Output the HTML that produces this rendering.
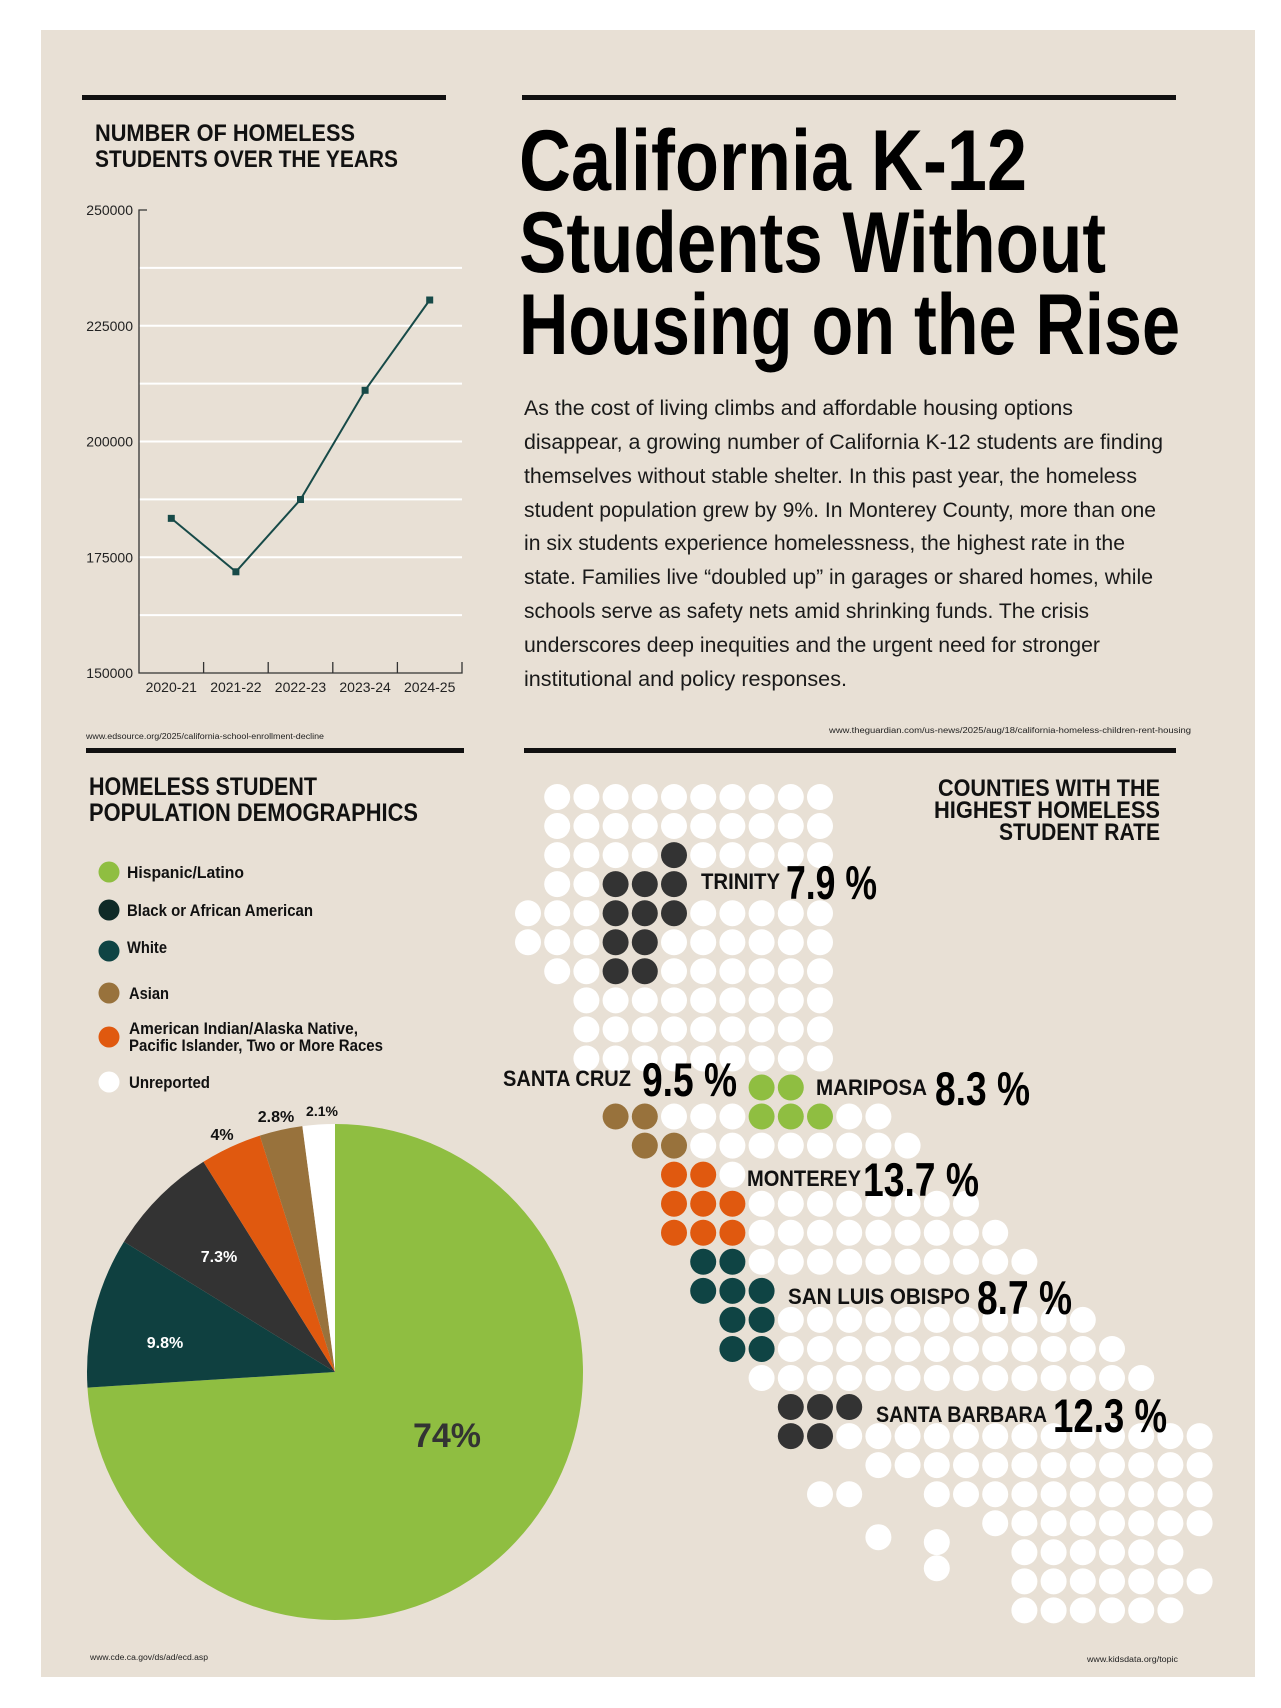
<!DOCTYPE html>
<html><head><meta charset="utf-8"><style>
html,body{margin:0;padding:0;background:#fff}
svg{display:block}
.cond{font-family:"Liberation Sans Narrow","Liberation Sans",sans-serif;font-weight:bold}
.reg{font-family:"Liberation Sans",sans-serif}
</style></head><body>
<svg id="root" width="1281" height="1708" viewBox="0 0 1281 1708" xmlns="http://www.w3.org/2000/svg">
<rect x="0" y="0" width="1281" height="1708" fill="#ffffff"/>
<rect x="41" y="30" width="1214" height="1647" fill="#e8e0d5"/>

<rect x="82" y="95" width="364" height="5" fill="#111"/>
<rect x="522" y="95" width="654" height="5" fill="#111"/>
<rect x="86" y="748" width="378" height="5" fill="#111"/>
<rect x="524" y="748" width="652" height="5" fill="#111"/>

<text class="cond" x="95" y="141" font-size="24" textLength="260" lengthAdjust="spacingAndGlyphs" fill="#111">NUMBER OF HOMELESS</text>
<text class="cond" x="95" y="167" font-size="24" textLength="303" lengthAdjust="spacingAndGlyphs" fill="#111">STUDENTS OVER THE YEARS</text>
<g id="linechart"></g>
<text class="reg" x="86" y="739" font-size="8" textLength="238" lengthAdjust="spacingAndGlyphs" fill="#222">www.edsource.org/2025/california-school-enrollment-decline</text>

<text class="cond" x="519" y="190" font-size="86" textLength="508" lengthAdjust="spacingAndGlyphs" fill="#000">California K-12</text>
<text class="cond" x="519" y="272" font-size="86" textLength="587" lengthAdjust="spacingAndGlyphs" fill="#000">Students Without</text>
<text class="cond" x="519" y="354" font-size="86" textLength="661" lengthAdjust="spacingAndGlyphs" fill="#000">Housing on the Rise</text>

<g class="reg" font-size="21" fill="#1a1a1a">
<text x="524" y="415" textLength="549" lengthAdjust="spacingAndGlyphs">As the cost of living climbs and affordable housing options</text>
<text x="524" y="449" textLength="639" lengthAdjust="spacingAndGlyphs">disappear, a growing number of California K-12 students are finding</text>
<text x="524" y="483" textLength="613" lengthAdjust="spacingAndGlyphs">themselves without stable shelter. In this past year, the homeless</text>
<text x="524" y="517" textLength="632" lengthAdjust="spacingAndGlyphs">student population grew by 9%. In Monterey County, more than one</text>
<text x="524" y="550" textLength="601" lengthAdjust="spacingAndGlyphs">in six students experience homelessness, the highest rate in the</text>
<text x="524" y="584" textLength="629" lengthAdjust="spacingAndGlyphs">state. Families live “doubled up” in garages or shared homes, while</text>
<text x="524" y="618" textLength="565" lengthAdjust="spacingAndGlyphs">schools serve as safety nets amid shrinking funds. The crisis</text>
<text x="524" y="652" textLength="576" lengthAdjust="spacingAndGlyphs">underscores deep inequities and the urgent need for stronger</text>
<text x="524" y="686" textLength="323" lengthAdjust="spacingAndGlyphs">institutional and policy responses.</text>
</g>
<text class="reg" x="829" y="733" font-size="8" textLength="362" lengthAdjust="spacingAndGlyphs" fill="#222">www.theguardian.com/us-news/2025/aug/18/california-homeless-children-rent-housing</text>

<text class="cond" x="89" y="795" font-size="25" textLength="228" lengthAdjust="spacingAndGlyphs" fill="#111">HOMELESS STUDENT</text>
<text class="cond" x="89" y="821" font-size="25" textLength="329" lengthAdjust="spacingAndGlyphs" fill="#111">POPULATION DEMOGRAPHICS</text>
<g id="legend"></g>
<g id="pie"></g>
<text class="reg" x="90" y="1660" font-size="8" textLength="118" lengthAdjust="spacingAndGlyphs" fill="#222">www.cde.ca.gov/ds/ad/ecd.asp</text>

<g id="dots"></g>
<text class="cond" x="1160" y="796" font-size="24" text-anchor="end" fill="#111" textLength="222" lengthAdjust="spacingAndGlyphs">COUNTIES WITH THE</text>
<text class="cond" x="1160" y="818" font-size="24" text-anchor="end" fill="#111" textLength="226" lengthAdjust="spacingAndGlyphs">HIGHEST HOMELESS</text>
<text class="cond" x="1160" y="840" font-size="24" text-anchor="end" fill="#111" textLength="161" lengthAdjust="spacingAndGlyphs">STUDENT RATE</text>
<g id="counties"></g>
<text class="reg" x="1087" y="1662" font-size="8" textLength="91" lengthAdjust="spacingAndGlyphs" fill="#222">www.kidsdata.org/topic</text>
</svg>
<script>
var NS = "http://www.w3.org/2000/svg";
var years = ["2020-21","2021-22","2022-23","2023-24","2024-25"];
var students = [183400, 171860, 187470, 211060, 230560];
var yTicks = [150000, 175000, 200000, 225000, 250000];
var yGrid = [162500, 175000, 187500, 200000, 212500, 225000, 237500];
var groups = ["Hispanic/Latino","White","Black or African American","American Indian/Alaska Native, Pacific Islander, Two or More Races","Asian","Unreported"];
var shares = [74, 9.8, 7.3, 4, 2.8, 2.1];
var shareLabels = ["74%","9.8%","7.3%","4%","2.8%","2.1%"];
var legendNames = ["Hispanic/Latino","Black or African American","White","Asian","American Indian/Alaska Native,|Pacific Islander, Two or More Races","Unreported"];
var counties = ["TRINITY","SANTA CRUZ","MARIPOSA","MONTEREY","SAN LUIS OBISPO","SANTA BARBARA"];
var rates = ["7.9 %","9.5 %","8.3 %","13.7 %","8.7 %","12.3 %"];
var dotRows = [
".wwwwwwwwww",
".wwwwwwwwww",
".wwwwkwwwww",
".wwkkk",
"wwwkkkwwwww",
"wwwkkwwwwww",
".wwkkwwwwww",
"..wwwwwwwww",
"..wwwwwwwww",
"..wwwwwwwww",
"........gg",
"...bbwwwgggww",
"....bbwwwwwwww",
".....oow",
".....ooowwwwwwww",
".....ooowwwwwwwww",
"......ttwwwwwwwwww",
"......ttt",
".......ttwwwwwwwwwww",
".......ttwwwwwwwwwwww",
"........wwwwwwwwwwwwww",
".........kkk",
".........kkwwwwwwwwwwwww",
"............wwwwwwwwwwww",
"..........ww..wwwwwwwwww",
"................wwwwwwww",
".................wwwwww",
".................wwwwwww",
".................wwwwww"
];
var islandCols = [12, 14, 14];
var islandRows = [25.48, 25.65, 26.55];

function mk(tag, attrs, parent){ var e=document.createElementNS(NS,tag); for(var k in attrs) e.setAttribute(k, attrs[k]); parent.appendChild(e); return e; }

(function(){
  var g = document.getElementById('linechart');
  var X0=139, X1=462, Y0=673, Y1=210, vmin=150000, vmax=250000;
  var bw=(X1-X0)/years.length;
  function xs(i){return X0+bw*(i+0.5);}
  function ys(v){return Y0-(v-vmin)/(vmax-vmin)*(Y0-Y1);}
  yGrid.forEach(function(v){
    var l=mk('line',{x1:X0,x2:X1,y1:ys(v),y2:ys(v),stroke:'#ffffff','stroke-width':2},g);
    
    
  });
  var ax=mk('path',{d:'M'+(X0+8)+' '+Y1+'H'+X0+'V'+Y0+'H'+X1+'V'+(Y0-11),fill:'none',stroke:'#333','stroke-width':1.3},g);
  
  
  for(var i=1;i<years.length;i++){
    var t=mk('line',{x1:X0+bw*i,x2:X0+bw*i,y1:Y0,y2:Y0-11,stroke:'#333','stroke-width':1.3},g);
    
    
  }
  yTicks.forEach(function(v){
    var t=mk('text',{x:133,y:ys(v)+5,'font-size':14,'text-anchor':'end',fill:'#222','font-family':'Liberation Sans, sans-serif'},g);
    t.textContent=v;
    
    
  });
  years.forEach(function(y,i){
    var t=mk('text',{x:xs(i),y:692,'font-size':14,'text-anchor':'middle',fill:'#222','font-family':'Liberation Sans, sans-serif'},g);
    t.textContent=y;
    
    
  });
  var d=students.map(function(v,i){return (i?'L':'M')+xs(i)+' '+ys(v);}).join('');
  var p=mk('path',{d:d,fill:'none',stroke:'#174a48','stroke-width':2},g);
  
  
  students.forEach(function(v,i){
    var r=mk('rect',{x:xs(i)-3.5,y:ys(v)-3.5,width:7,height:7,fill:'#174a48'},g);
    
    
  });
})();

(function(){
  var g=document.getElementById('legend');
  var cols=['#8fbe41','#0f2a27','#0f4444','#98723c','#e0590f','#ffffff'];
  var cy=[872,910,951,993,1037,1082];
  var widths=[[117],[186],[40],[40],[229,254],[81]];
  legendNames.forEach(function(n,i){
    var c=mk('circle',{cx:109,cy:cy[i],r:10.5,fill:cols[i]},g);
    
    
    var parts=n.split('|');
    parts.forEach(function(p,j){
      var yy = parts.length>1 ? cy[i]-3+j*17 : (i==2 ? cy[i]+2 : cy[i]+6);
      var t=mk('text',{x:i>=3?129:127,y:yy,'font-size':17,fill:'#111','class':'cond',textLength:widths[i][j],lengthAdjust:'spacingAndGlyphs'},g);
      t.textContent=p;
      
      
    });
  });
})();

(function(){
  var g=document.getElementById('pie');
  var cols=['#8fbe41','#0f4040','#333333','#e0590f','#98723c','#ffffff'];
  var cx=335, cy=1372, R=248;
  var total=shares.reduce(function(a,b){return a+b;},0);
  var a0=-Math.PI/2;
  var labelPos=[[447,1447,34,'#333'],[165,1348,16,'#fff'],[219,1262,16,'#fff'],[222,1140,16,'#111'],[276,1122,16,'#111'],[322,1116,14,'#111']];
  shares.forEach(function(s,i){
    var a1=a0+s/total*2*Math.PI;
    var large=(a1-a0)>Math.PI?1:0;
    var d='M'+cx+' '+cy+'L'+(cx+R*Math.cos(a0))+' '+(cy+R*Math.sin(a0))+'A'+R+' '+R+' 0 '+large+' 1 '+(cx+R*Math.cos(a1))+' '+(cy+R*Math.sin(a1))+'Z';
    var p=mk('path',{d:d,fill:cols[i]},g);
    
    
    var lp=labelPos[i];
    var t=mk('text',{x:lp[0],y:lp[1],'font-size':lp[2],'text-anchor':'middle',fill:lp[3],'class':'cond'},g);
    t.textContent=shareLabels[i];
    
    
    a0=a1;
  });
})();

(function(){
  var g=document.getElementById('dots');
  var col={w:'#ffffff',k:'#333333',g:'#8fbe41',b:'#98723c',o:'#e0590f',t:'#0f4444'};
  function dx(c){return 528+29.2*c;}
  function dy(r){return 797+29.05*r;}
  dotRows.forEach(function(row,r){
    for(var c=0;c<row.length;c++){
      var ch=row[c]; if(ch==='.') continue;
      var e=mk('circle',{cx:dx(c),cy:dy(r),r:13,fill:col[ch]},g);
      
      
    }
  });
  islandCols.forEach(function(c,i){
    var e=mk('circle',{cx:dx(c),cy:dy(islandRows[i]),r:13,fill:'#ffffff'},g);
    
    
  });
})();

(function(){
  var g=document.getElementById('counties');
  var lx=[701,503,816,747,788,876], lw=[79,128,111,114,182,171];
  var nx=[786,642,935,863,977,1053], nw=[91,95,95,116,95,114];
  var cyy=[881,1078,1087,1178,1296,1414];
  counties.forEach(function(n,i){
    var t=mk('text',{x:lx[i],y:cyy[i]+8,'font-size':22,fill:'#111','class':'cond',textLength:lw[i],lengthAdjust:'spacingAndGlyphs'},g);
    t.textContent=n;
    
    
    var u=mk('text',{x:nx[i],y:cyy[i]+18,'font-size':47,fill:'#000','class':'cond',textLength:nw[i],lengthAdjust:'spacingAndGlyphs'},g);
    u.textContent=rates[i];
    
    
  });
})();
</script>
</body></html>
